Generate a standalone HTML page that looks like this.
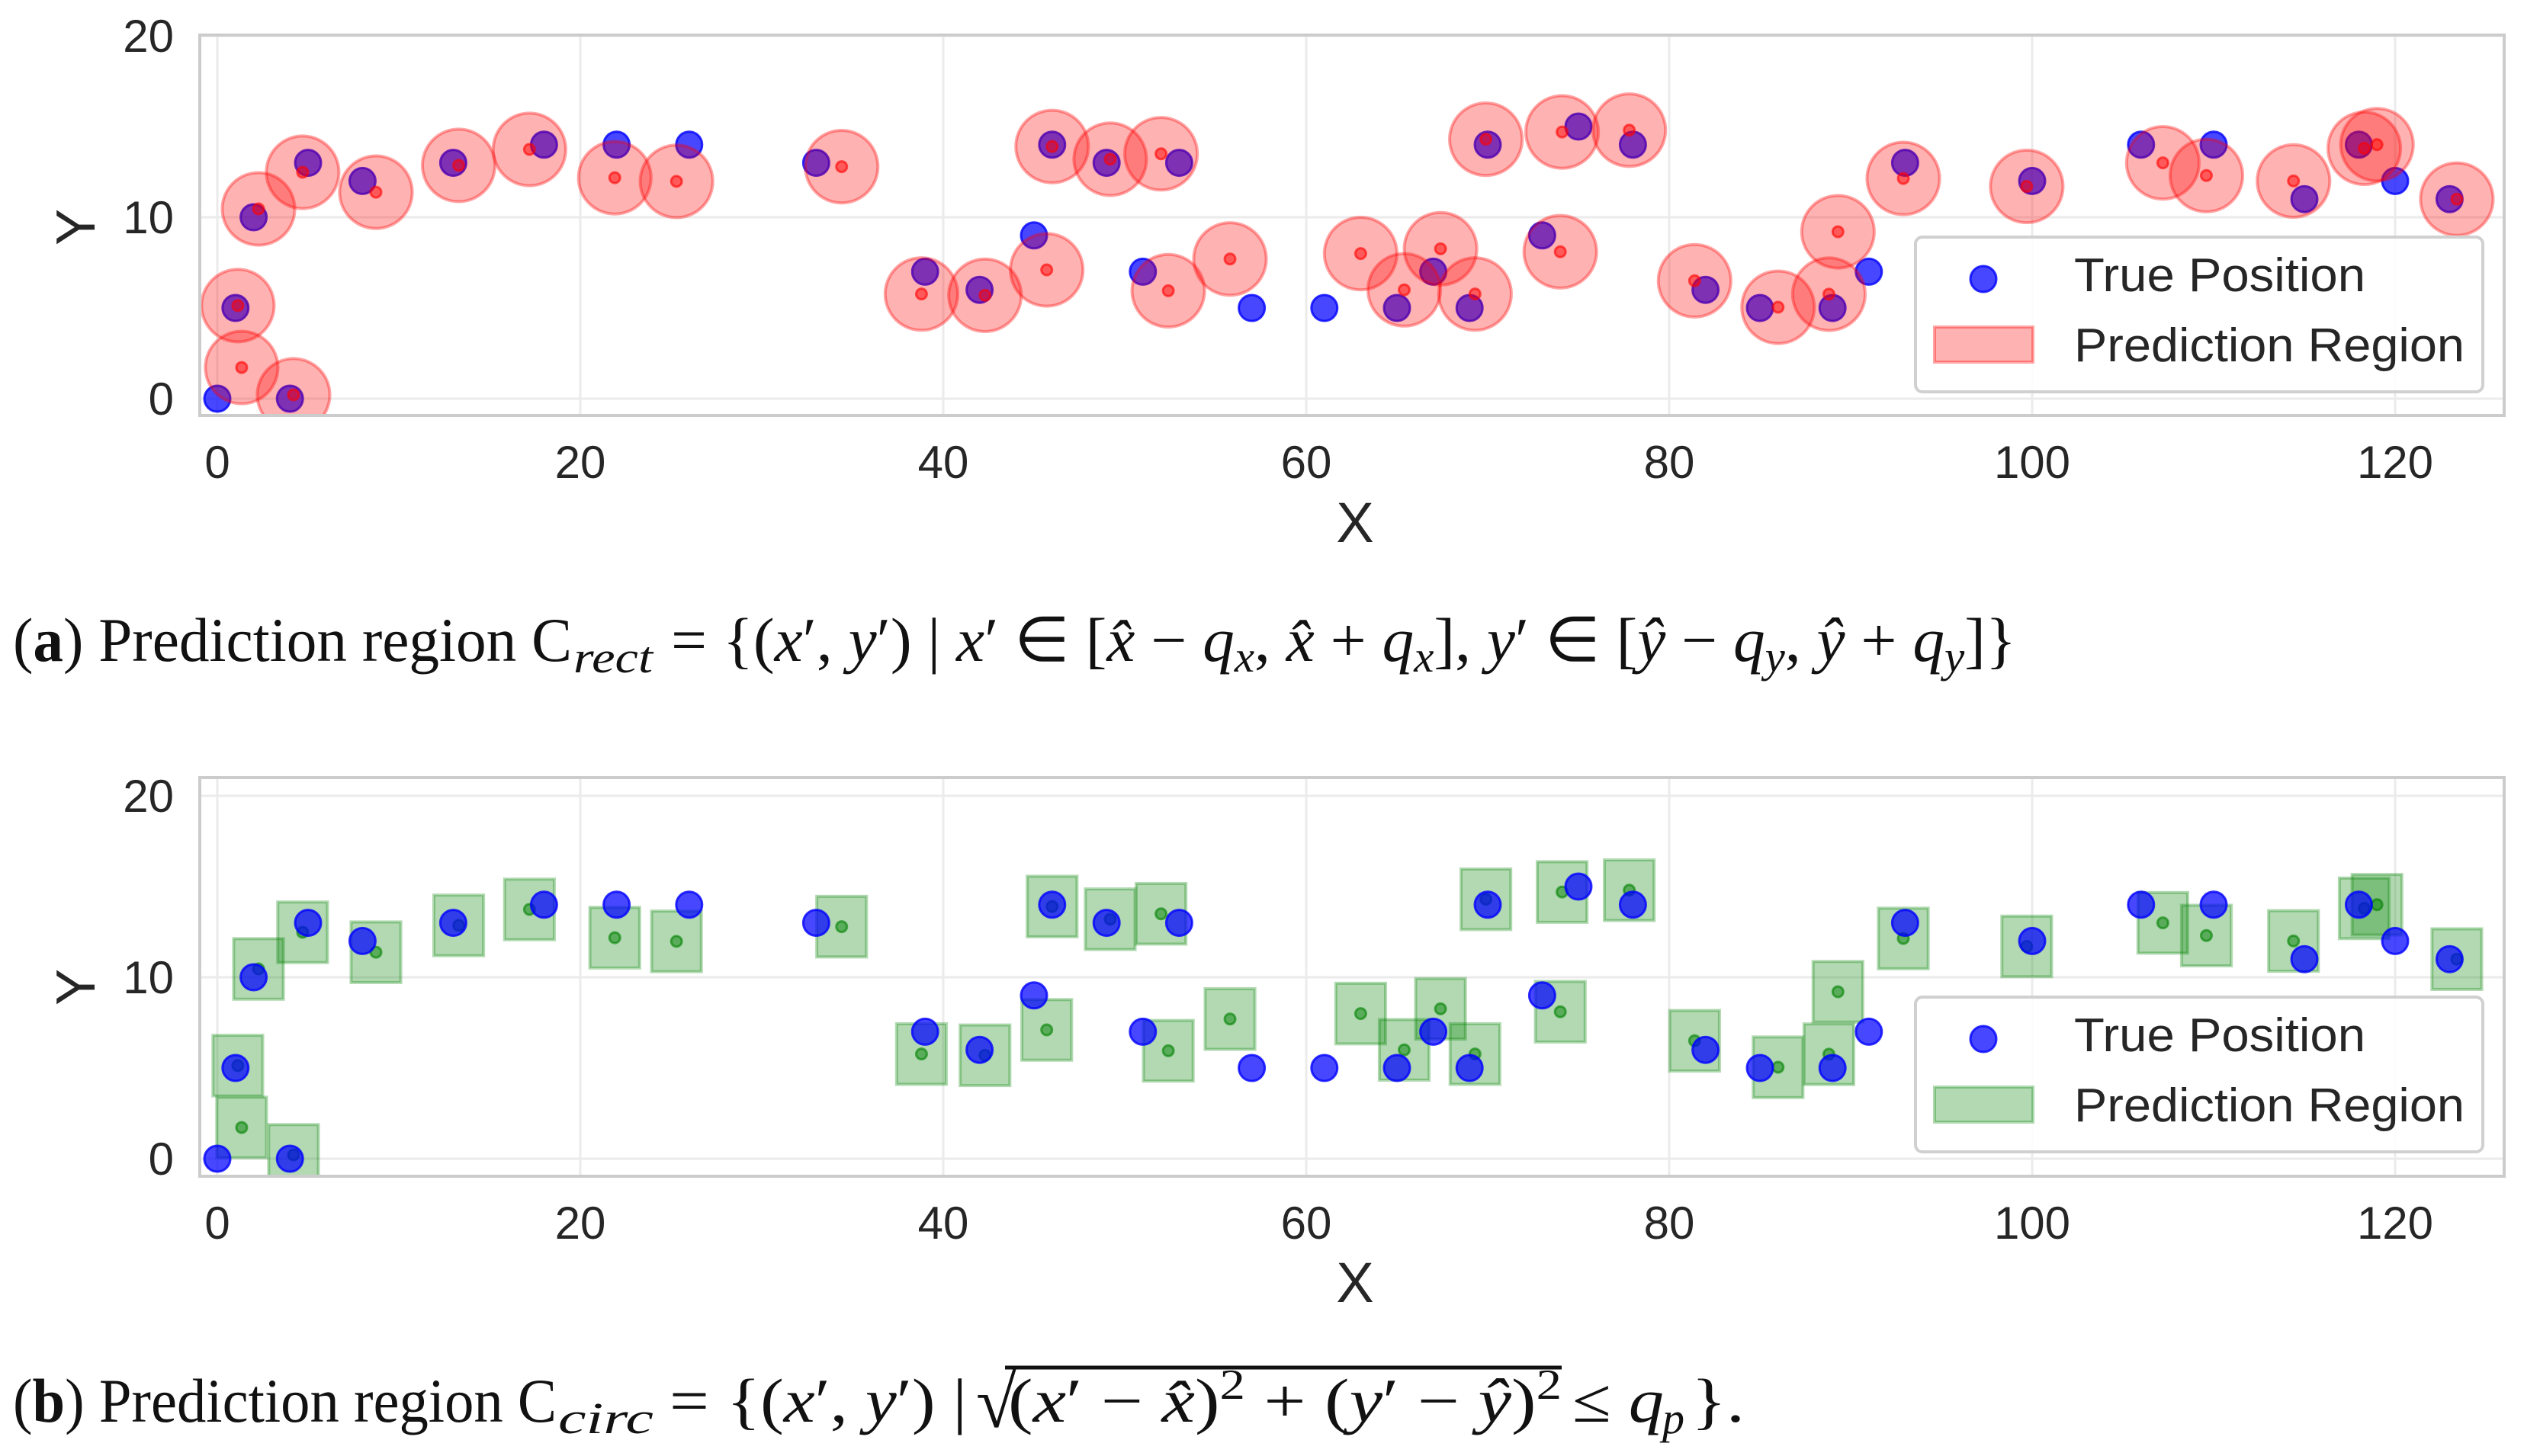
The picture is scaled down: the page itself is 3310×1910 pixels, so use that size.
<!DOCTYPE html>
<html><head><meta charset="utf-8"><style>
html,body{margin:0;padding:0;background:#fff;}
svg{display:block;}
</style></head><body>
<svg id="fig" xmlns="http://www.w3.org/2000/svg" width="3310" height="1910" viewBox="0 0 3310 1910">
<rect x="0" y="0" width="3310" height="1910" fill="#fff"/>
<defs>
<clipPath id="clipTop"><rect x="262" y="46" width="3022" height="499"/></clipPath>
<clipPath id="clipBot"><rect x="262" y="1020" width="3022" height="523"/></clipPath>
</defs>
<g id="chartTop"></g>
<g id="chartBot"></g>
<g font-family="'Liberation Serif', serif" fill="#111">
<text x="17" y="867" font-size="82" textLength="733" lengthAdjust="spacingAndGlyphs">(<tspan font-weight="bold">a</tspan>) Prediction region C</text>
<text x="752" y="882" font-size="58" font-style="italic" textLength="104" lengthAdjust="spacingAndGlyphs">rect</text>
<text x="880" y="867" font-size="82" textLength="1764" lengthAdjust="spacingAndGlyphs">= {(<tspan font-style="italic">x</tspan>′, <tspan font-style="italic">y</tspan>′) | <tspan font-style="italic">x</tspan>′ ∈ [<tspan font-style="italic">x̂</tspan> − <tspan font-style="italic">q<tspan font-size="58" dy="14">x</tspan></tspan><tspan dy="-14">, </tspan><tspan font-style="italic">x̂</tspan> + <tspan font-style="italic">q<tspan font-size="58" dy="14">x</tspan></tspan><tspan dy="-14">], </tspan><tspan font-style="italic">y</tspan>′ ∈ [<tspan font-style="italic">ŷ</tspan> − <tspan font-style="italic">q<tspan font-size="58" dy="14">y</tspan></tspan><tspan dy="-14">, </tspan><tspan font-style="italic">ŷ</tspan> + <tspan font-style="italic">q<tspan font-size="58" dy="14">y</tspan></tspan><tspan dy="-14">]}</tspan></text>
</g>
<g font-family="'Liberation Serif', serif" fill="#111">
<text x="17" y="1865" font-size="82" textLength="713" lengthAdjust="spacingAndGlyphs">(<tspan font-weight="bold">b</tspan>) Prediction region C</text>
<text x="732" y="1880" font-size="58" font-style="italic" textLength="125" lengthAdjust="spacingAndGlyphs">circ</text>
<text x="878" y="1865" font-size="82" textLength="390" lengthAdjust="spacingAndGlyphs">= {(<tspan font-style="italic">x</tspan>′, <tspan font-style="italic">y</tspan>′) |</text>
<text x="1280" y="1872" font-size="96">√</text>
<line x1="1318" y1="1794" x2="2048" y2="1794" stroke="#111" stroke-width="5"/>
<text x="1322" y="1865" font-size="82" textLength="726" lengthAdjust="spacingAndGlyphs">(<tspan font-style="italic">x</tspan>′ − <tspan font-style="italic">x̂</tspan>)<tspan font-size="56" dy="-30">2</tspan><tspan dy="30"> + (</tspan><tspan font-style="italic">y</tspan>′ − <tspan font-style="italic">ŷ</tspan>)<tspan font-size="56" dy="-30">2</tspan></text>
<text x="2062" y="1865" font-size="82" textLength="120" lengthAdjust="spacingAndGlyphs">≤ <tspan font-style="italic">q</tspan></text>
<text x="2180" y="1880" font-size="58" font-style="italic">p</text>
<text x="2218" y="1865" font-size="82" textLength="70" lengthAdjust="spacingAndGlyphs">}.</text>
</g>
</svg>
<script>
const trueX = [0,1,2,4,5,8,13,18,22,26,33,39,42,45,46,49,51,53,57,61,65,67,69,70,73,75,78,82,85,89,91,93,100,106,110,115,118,120,123];
const trueY = [0,5,10,0,13,12,13,14,14,14,13,7,6,9,14,13,7,13,5,5,5,7,5,14,9,15,14,6,5,5,7,13,12,14,14,11,14,12,11];
const predX = [1.13,1.34,2.27,4.2,4.7,8.74,13.3,17.2,21.9,25.3,34.4,38.8,42.3,45.7,46.0,49.2,52.0,52.4,55.8,63.0,65.4,67.4,69.3,69.9,74.0,74.1,77.8,81.4,86.0,88.8,89.3,92.9,99.7,107.2,109.6,114.4,118.3,119.0,123.4];
const predY = [5.13,1.72,10.46,0.21,12.48,11.38,12.86,13.74,12.18,11.98,12.79,5.77,5.7,7.1,13.9,13.2,13.5,5.95,7.7,8.0,6.0,8.26,5.77,14.3,8.1,14.7,14.8,6.5,5.04,5.76,9.2,12.14,11.7,13.0,12.3,12.0,13.8,14.0,11.0];
const xTicks = [0,20,40,60,80,100,120];
const yTicks = [0,10,20];
const circleRadius = [2.0];
const rectHalfW = [1.37];
const rectHalfH = [1.67];
const legendLabels = ["True Position","Prediction Region"];

const NS = "http://www.w3.org/2000/svg";
const PX = 23.8;
const sx = v => 285 + v * PX;
function mk(tag, attrs, parent){ const e=document.createElementNS(NS,tag); for(const k in attrs) e.setAttribute(k,attrs[k]); parent.appendChild(e); return e; }

function drawChart(g, y0, top, bottom, clipId, kind){
  const sy = v => y0 - v * PX;
  // grid
  const grid = mk('g',{},g);
  
  
  xTicks.forEach(t=>{ const l=mk('line',{x1:sx(t),x2:sx(t),y1:top,y2:bottom,stroke:'#ebebeb','stroke-width':3},grid);
      });
  yTicks.forEach(t=>{ const l=mk('line',{x1:262,x2:3284,y1:sy(t),y2:sy(t),stroke:'#ebebeb','stroke-width':3},grid);
      });
  const plot = mk('g',{'clip-path':'url(#'+clipId+')'},g);
  
  
  const drawTrue = () => trueX.forEach((x,i)=>{ const c=mk('circle',{cx:sx(x),cy:sy(trueY[i]),r:17,fill:'rgba(0,0,255,0.72)',stroke:'rgba(0,0,255,0.8)','stroke-width':3},plot);
      });
  if(kind==='circle'){
    drawTrue();
    predX.forEach((x,i)=>{ const c=mk('circle',{cx:sx(x),cy:sy(predY[i]),r:circleRadius[0]*PX,fill:'rgba(255,0,0,0.3)',stroke:'rgba(255,0,0,0.35)','stroke-width':4},plot);
        });
    predX.forEach((x,i)=>{ const c=mk('circle',{cx:sx(x),cy:sy(predY[i]),r:7,fill:'rgba(255,0,0,0.5)',stroke:'rgba(255,0,0,0.6)','stroke-width':3},plot);
        });
  } else {
    predX.forEach((x,i)=>{ const r=mk('rect',{x:sx(x-rectHalfW[0]),y:sy(predY[i]+rectHalfH[0]),width:2*rectHalfW[0]*PX,height:2*rectHalfH[0]*PX,fill:'rgba(0,128,0,0.3)',stroke:'rgba(0,128,0,0.3)','stroke-width':4},plot);
        });
    predX.forEach((x,i)=>{ const c=mk('circle',{cx:sx(x),cy:sy(predY[i]),r:7,fill:'rgba(0,128,0,0.5)',stroke:'rgba(0,128,0,0.6)','stroke-width':3},plot);
        });
    drawTrue();
  }
  // spines
  const sp = mk('rect',{x:262,y:top,width:3022,height:bottom-top,fill:'none',stroke:'#cccccc','stroke-width':4},g);
  
  
  // tick labels
  xTicks.forEach(t=>{ const tx=mk('text',{x:sx(t),y:bottom+82,'font-size':60,'text-anchor':'middle','font-family':"'Liberation Sans', sans-serif",fill:'#262626'},g);
    tx.textContent=t;   });
  yTicks.forEach(t=>{ const tx=mk('text',{x:228,y:sy(t)+21,'font-size':60,'text-anchor':'end','font-family':"'Liberation Sans', sans-serif",fill:'#262626'},g);
    tx.textContent=t;   });
  const xl=mk('text',{x:1777,y:y0+188,'font-size':74,'text-anchor':'middle','font-family':"'Liberation Sans', sans-serif",fill:'#262626'},g);
  xl.textContent='X';  
  const yl=mk('text',{x:0,y:0,'font-size':72,'text-anchor':'middle','font-family':"'Liberation Sans', sans-serif",fill:'#262626',transform:`translate(124,${y0-225}) rotate(-90)`},g);
  yl.textContent='Y';  
  // legend
  const ly = y0 - 523 + 311;
  const lg = mk('g',{},g);
  
  
  mk('rect',{x:2512,y:ly,width:744,height:203,rx:9,fill:'rgba(255,255,255,0.85)',stroke:'#d0d0d0','stroke-width':4},lg);
  const m=mk('circle',{cx:2601,cy:ly+55,r:17,fill:'rgba(0,0,255,0.72)',stroke:'rgba(0,0,255,0.8)','stroke-width':3},lg);
   
  const pf = kind==='circle' ? ['rgba(255,0,0,0.3)','rgba(255,0,0,0.35)'] : ['rgba(0,128,0,0.3)','rgba(0,128,0,0.3)'];
  const p=mk('rect',{x:2537,y:ly+118,width:129,height:46,fill:pf[0],stroke:pf[1],'stroke-width':4},lg);
   
  const t1=mk('text',{x:2720,y:ly+71,'font-size':62,'font-family':"'Liberation Sans', sans-serif",fill:'#262626',textLength:382,lengthAdjust:'spacingAndGlyphs'},lg);
  t1.textContent=legendLabels[0];  
  const t2=mk('text',{x:2720,y:ly+163,'font-size':62,'font-family':"'Liberation Sans', sans-serif",fill:'#262626',textLength:512,lengthAdjust:'spacingAndGlyphs'},lg);
  t2.textContent=legendLabels[1];  
}
drawChart(document.getElementById('chartTop'), 523, 46, 545, 'clipTop', 'circle');
drawChart(document.getElementById('chartBot'), 1520, 1020, 1543, 'clipBot', 'rect');
</script>
</body></html>
